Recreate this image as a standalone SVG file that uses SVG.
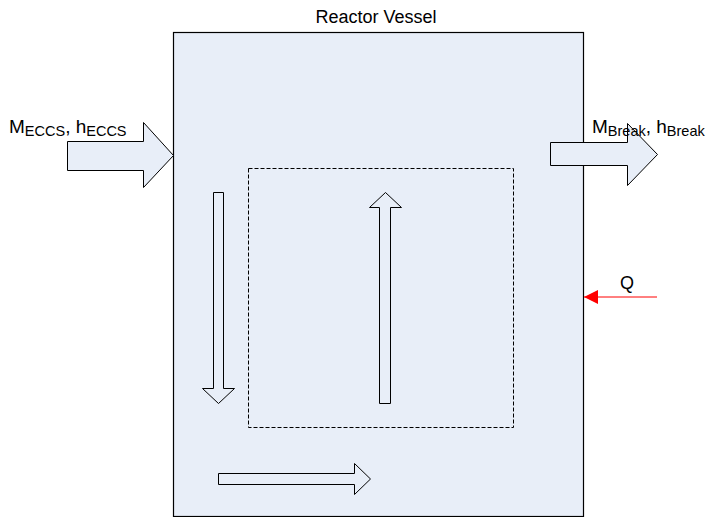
<svg xmlns="http://www.w3.org/2000/svg" width="719" height="517" viewBox="0 0 719 517">
<defs>
<style>
text{font-family:"Liberation Sans",Arial,sans-serif;fill:#000}
.big{font-size:18px}
.lab{font-size:19px}
.sub{font-size:14.5px}
.fa{fill:#E8EEF8;stroke:#000;stroke-width:1}
</style>
<marker id="redHead" viewBox="0 0 10 10" refX="10" refY="5" markerWidth="17" markerHeight="14" markerUnits="userSpaceOnUse" orient="auto"><path d="M0,0 L10,5 L0,10 Z" fill="#FF0000"/></marker>
</defs>
<rect width="719" height="517" fill="#fff"/>
<g id="vessel">
<rect x="173.5" y="32.5" width="410" height="484" fill="#E8EEF8" stroke="#000" stroke-width="1.2"/>
<text class="big" x="376" y="23" text-anchor="middle">Reactor Vessel</text>
</g>
<g id="core">
<rect x="248.5" y="168.5" width="265" height="259" fill="none" stroke="#000" stroke-width="1" stroke-dasharray="4,2"/>
</g>
<g id="connectors">
<path id="eccs-arrow" class="fa" d="M67.5,141.5 H143.5 V122.5 L173.5,155.5 L143.5,187.5 V170.5 H67.5 Z"/>
<path id="break-arrow" class="fa" d="M550.5,142.5 H627.5 V123.5 L657.5,154.5 L627.5,185.5 V165.5 H550.5 Z"/>
<path id="down-arrow" class="fa" d="M213.5,192.5 H223.5 V388.5 H234.5 L218.5,403.5 L202.5,388.5 H213.5 Z"/>
<path id="up-arrow" class="fa" d="M379.5,403.5 H390.5 V207.5 H401.5 L385.5,192.5 L369.5,207.5 H379.5 Z"/>
<path id="bottom-arrow" class="fa" d="M218.5,473.5 H354.5 V463.5 L370.5,479 L354.5,494.5 V484.5 H218.5 Z"/>
<line id="q-arrow" x1="657" y1="297" x2="584" y2="297" stroke="#FF0000" stroke-width="1" marker-end="url(#redHead)"/>
</g>
<g id="labels">
<text class="lab" x="9" y="133">M<tspan class="sub" dy="3">ECCS</tspan><tspan dy="-3">, h</tspan><tspan class="sub" dy="3">ECCS</tspan></text>
<text class="lab" x="592" y="133">M<tspan class="sub" dy="3">Break</tspan><tspan dy="-3">, h</tspan><tspan class="sub" dy="3">Break</tspan></text>
<text class="big" x="627" y="289" text-anchor="middle">Q</text>
</g>
</svg>
